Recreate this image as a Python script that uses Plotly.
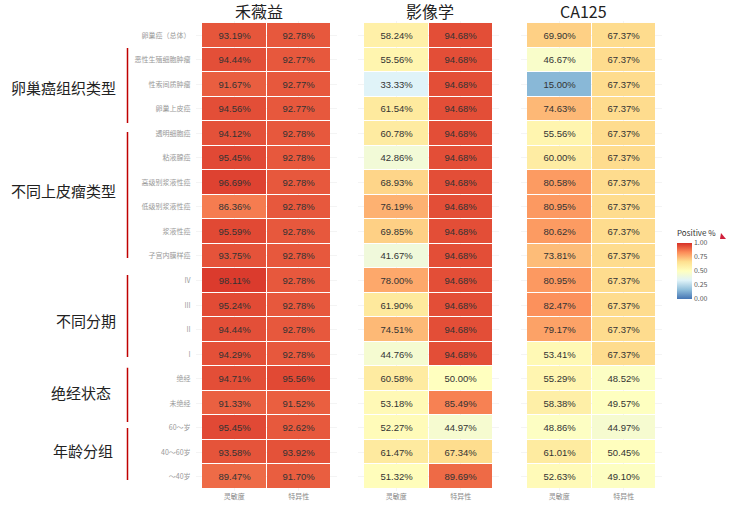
import plotly.graph_objects as go

# row labels, top to bottom
rows = ["卵巢癌（总体）", "恶性生殖细胞肿瘤", "性索间质肿瘤", "卵巢上皮癌",
        "透明细胞癌", "粘液腺癌", "高级别浆液性癌", "低级别浆液性癌", "浆液性癌", "子宫内膜样癌",
        "IV", "III", "II", "I",
        "绝经", "未绝经",
        "60～岁", "40～60岁", "～40岁"]
metrics = ["灵敏度", "特异性"]
methods = ["禾薇益", "影像学", "CA125"]

hwy_sens = [93.19, 94.44, 91.67, 94.56, 94.12, 95.45, 96.69, 86.36, 95.59, 93.75,
            98.11, 95.24, 94.44, 94.29, 94.71, 91.33, 95.45, 93.58, 89.47]
hwy_spec = [92.78, 92.77, 92.77, 92.77, 92.78, 92.78, 92.78, 92.78, 92.78, 92.78,
            92.78, 92.78, 92.78, 92.78, 95.56, 91.52, 92.62, 93.92, 91.70]
img_sens = [58.24, 55.56, 33.33, 61.54, 60.78, 42.86, 68.93, 76.19, 69.85, 41.67,
            78.00, 61.90, 74.51, 44.76, 60.58, 53.18, 52.27, 61.47, 51.32]
img_spec = [94.68, 94.68, 94.68, 94.68, 94.68, 94.68, 94.68, 94.68, 94.68, 94.68,
            94.68, 94.68, 94.68, 94.68, 50.00, 85.49, 44.97, 67.34, 89.69]
ca_sens = [69.90, 46.67, 15.00, 74.63, 55.56, 60.00, 80.58, 80.95, 80.62, 73.81,
           80.95, 82.47, 79.17, 53.41, 55.29, 58.38, 48.86, 61.01, 52.63]
ca_spec = [67.37, 67.37, 67.37, 67.37, 67.37, 67.37, 67.37, 67.37, 67.37, 67.37,
           67.37, 67.37, 67.37, 67.37, 48.52, 49.57, 44.97, 50.45, 49.10]

groups = ["卵巢癌组织类型", "不同上皮瘤类型", "不同分期", "绝经状态", "年龄分组"]
group_label_row = [2.11, 6.31, 11.65, 14.58, 16.95]
group_label_x = [118, 118, 118, 113, 115]
group_line = [(0.52, 3.58), (3.94, 9.08), (9.77, 13.12), (13.56, 15.77), (16.01, 18.13)]
title_x = [259, 430, 583]

W, H = 734, 515


def px(x):
    return x / W


def py(y):
    return 1 - y / H


rdylbu = [[0, "#4575b4"], [1/6, "#91bfdb"], [2/6, "#e0f3f8"], [0.5, "#ffffbf"],
          [4/6, "#fee090"], [5/6, "#fc8d59"], [1, "#d73027"]]

panel_data = [(hwy_sens, hwy_spec), (img_sens, img_spec), (ca_sens, ca_spec)]
cell_left = [202, 364, 527]
cell_w = 129
ext = cell_w / 2 * 0.1
top, bottom = 23, 489
row_h = (bottom - top) / len(rows)

fig = go.Figure()
for i, (sens, spec) in enumerate(panel_data):
    z = [[s / 100, p / 100] for s, p in zip(sens, spec)]
    txt = [[f"{s:.2f}%", f"{p:.2f}%"] for s, p in zip(sens, spec)]
    ax = "" if i == 0 else str(i + 1)
    fig.add_trace(go.Heatmap(
        z=z, x=[0, 1], y=list(range(len(rows))), text=txt, texttemplate="%{text}",
        textfont=dict(size=9.5, color="#333333", family="Liberation Sans"),
        colorscale=rdylbu, zmin=0, zmax=1, xgap=1, ygap=1,
        xaxis="x" + ax, yaxis="y",
        showscale=(i == 0), hoverinfo="skip",
        colorbar=dict(title=dict(text="Positive %", side="top", font=dict(size=8, color="#333")),
                      thickness=15, thicknessmode="pixels", len=72, lenmode="pixels",
                      x=px(677), xanchor="left", y=py(263), yanchor="middle",
                      tickvals=[0, 0.25, 0.5, 0.75, 1], ticktext=["0.00", "0.25", "0.50", "0.75", "1.00"],
                      tickfont=dict(size=7, color="#555"), ticks="", outlinewidth=0, ypad=0, xpad=0),
    ))
    fig.update_layout(**{"xaxis" + ax: dict(
        domain=[px(cell_left[i] - ext), px(cell_left[i] + cell_w + ext)],
        range=[-0.6, 1.6], tickvals=[0, 1], ticktext=metrics,
        tickfont=dict(size=7, color="#888"), showgrid=True, gridcolor="#f4f4f4",
        zeroline=False, ticks="", anchor="y", fixedrange=True)})
    fig.add_annotation(text=methods[i], x=px(title_x[i]), y=py(11),
                       xref="paper", yref="paper", xanchor="center", yanchor="middle",
                       showarrow=False,
                       font=dict(size=16, color="#222", family="Noto Sans CJK SC"))

fig.update_layout(yaxis=dict(
    domain=[py(bottom + row_h * 0.1), py(top - row_h * 0.1)],
    range=[len(rows) - 0.4, -0.6], tickvals=list(range(len(rows))), ticktext=rows,
    tickfont=dict(size=7, color="#999"), showgrid=True, gridcolor="#f4f4f4",
    zeroline=False, ticks="", ticklabelstandoff=4))

for g, r, gx, (a, b) in zip(groups, group_label_row, group_label_x, group_line):
    fig.add_annotation(text=g, x=px(gx), y=r, xref="paper", yref="y", xanchor="right",
                       showarrow=False, font=dict(size=15, color="#222", family="Noto Sans CJK SC"))
    fig.add_shape(type="line", xref="paper", yref="y", x0=px(127.5), x1=px(127.5), y0=a, y1=b,
                  line=dict(color="#c00000", width=1.5))

# small red mark at right edge
fig.add_shape(type="path", xref="paper", yref="paper",
              path=f"M {px(721)} {py(233)} L {px(720)} {py(239)} L {px(726)} {py(239)} Z",
              fillcolor="#d0203c", line=dict(width=0))

fig.update_layout(width=W, height=H, margin=dict(l=0, r=0, t=0, b=0),
                  plot_bgcolor="white", paper_bgcolor="white",
                  font=dict(family="Noto Sans CJK SC"), showlegend=False)

# drop the default page margin so the figure fills the window
fig.write_html("out.html", config={"displayModeBar": False},
               post_script="document.body.style.margin='0';")
